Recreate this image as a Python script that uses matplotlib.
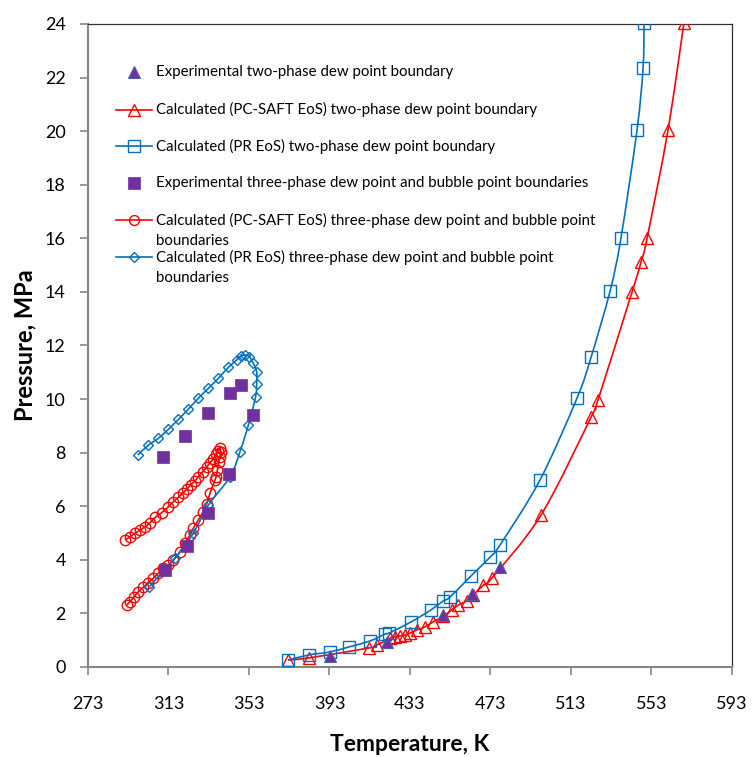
import matplotlib
matplotlib.use("Agg")
import matplotlib.pyplot as plt
from matplotlib.path import Path
from matplotlib.patches import PathPatch

plt.rcParams['font.family'] = ['Lato', 'DejaVu Sans']

# ---------------- data ----------------
# Experimental two-phase dew point boundary
exp2_T = [393.2, 421.4, 449.6, 463.6, 477.7]
exp2_P = [0.41, 0.94, 1.94, 2.71, 3.72]

# Calculated PC-SAFT two-phase dew point boundary
saft2_T = [372.4, 382.8, 412.6, 416.6, 423.1, 425.5, 428.0, 430.5, 433.0, 436.3,
           440.5, 444.6, 449.6, 453.7, 457.0, 461.2, 464.5, 469.5, 473.6, 498.1,
           523.0, 526.4, 543.3, 547.8, 550.8, 561.2, 569.1]
saft2_P = [0.26, 0.34, 0.71, 0.82, 1.07, 1.13, 1.16, 1.19, 1.26, 1.38,
           1.50, 1.69, 1.90, 2.13, 2.31, 2.47, 2.69, 3.06, 3.31, 5.67,
           9.33, 9.96, 13.99, 15.11, 16.00, 20.04, 24.03]

# Calculated PR two-phase dew point boundary
pr2_T = [372.4, 382.8, 393.2, 402.7, 413.1, 420.6, 422.6, 433.5, 443.4, 449.4,
         452.9, 463.3, 472.8, 477.7, 497.6, 516.0, 523.0, 532.4, 537.8, 545.8,
         548.8, 549.3]
pr2_P = [0.26, 0.45, 0.56, 0.75, 0.97, 1.23, 1.27, 1.68, 2.13, 2.46,
         2.61, 3.40, 4.10, 4.55, 6.98, 10.04, 11.57, 14.03, 16.00, 20.04,
         22.35, 24.03]

# Experimental three-phase dew/bubble point boundaries
exp3_T = [310.4, 321.2, 332.8, 343.6, 349.0, 354.8, 343.2, 332.8, 322.0, 311.3]
exp3_P = [7.82, 8.62, 9.49, 10.21, 10.52, 9.40, 7.20, 5.76, 4.51, 3.62]

# Calculated PC-SAFT three-phase boundaries (path order)
saft3_T = [292.2, 293.9, 295.9, 298.0, 300.5, 302.9, 305.4, 307.9, 310.4, 312.9,
           315.4, 318.7, 321.2, 323.7, 325.3, 327.8, 330.3, 332.0, 333.6, 336.1,
           336.6, 337.3, 338.1, 338.6, 338.9, 338.6,
           337.7, 336.6, 335.3, 333.6, 332.0, 330.0, 327.8, 326.2, 324.0, 322.0,
           320.0, 317.9, 315.4, 312.9, 309.6, 306.3, 303.8, 301.3, 298.8, 296.4,
           293.9, 291.4]
saft3_P = [2.31, 2.44, 2.62, 2.81, 2.97, 3.15, 3.31, 3.50, 3.68, 3.81,
           3.99, 4.30, 4.62, 4.93, 5.17, 5.49, 5.80, 6.10, 6.48, 6.98,
           7.10, 7.35, 7.66, 7.85, 8.03, 8.16,
           8.07, 7.95, 7.78, 7.62, 7.47, 7.29, 7.10, 6.95, 6.79, 6.63,
           6.48, 6.34, 6.17, 5.98, 5.76, 5.58, 5.38, 5.23, 5.11, 4.99,
           4.86, 4.74]

# Calculated PR three-phase boundaries (path order)
pr3_T = [303.5, 316.2, 325.3, 332.8, 343.6, 348.5, 352.7, 356.3, 356.8, 356.8,
         355.2, 353.2, 351.0, 348.8, 346.9, 342.7, 337.7, 332.8, 327.8, 322.8,
         317.9, 312.9, 307.9, 303.0, 297.7]
pr3_P = [3.00, 4.06, 4.99, 6.04, 7.10, 8.03, 9.03, 10.09, 10.55, 11.02,
         11.33, 11.58, 11.64, 11.60, 11.46, 11.18, 10.77, 10.40, 10.03, 9.62,
         9.24, 8.87, 8.53, 8.28, 7.91]

x_ticks = [273, 313, 353, 393, 433, 473, 513, 553, 593]
y_ticks = [0, 2, 4, 6, 8, 10, 12, 14, 16, 18, 20, 22, 24]

labels = [
    "Experimental two-phase dew point boundary",
    "Calculated (PC-SAFT EoS) two-phase dew point boundary",
    "Calculated (PR EoS) two-phase dew point boundary",
    "Experimental three-phase dew point and bubble point boundaries",
    "Calculated (PC-SAFT EoS) three-phase dew point and bubble point\nboundaries",
    "Calculated (PR EoS) three-phase dew point and bubble point\nboundaries",
]

RED = '#FF0000'
BLUE = '#0070C0'
PURPLE = '#7030A0'


def smooth_line(ax, xs, ys, color, lw, zorder):
    """Smoothed line through the data points (Catmull-Rom Bezier, like Excel)."""
    pts = list(zip(xs, ys))
    n = len(pts)
    verts = [pts[0]]
    codes = [Path.MOVETO]
    for i in range(n - 1):
        p0 = pts[i - 1] if i > 0 else pts[i]
        p1 = pts[i]
        p2 = pts[i + 1]
        p3 = pts[i + 2] if i + 2 < n else pts[i + 1]
        c1 = (p1[0] + (p2[0] - p0[0]) / 6.0, p1[1] + (p2[1] - p0[1]) / 6.0)
        c2 = (p2[0] - (p3[0] - p1[0]) / 6.0, p2[1] - (p3[1] - p1[1]) / 6.0)
        verts += [c1, c2, p2]
        codes += [Path.CURVE4, Path.CURVE4, Path.CURVE4]
    patch = PathPatch(Path(verts, codes), facecolor='none', edgecolor=color,
                      lw=lw, zorder=zorder, transform=ax.transData)
    ax.add_patch(patch)


fig = plt.figure(figsize=(7.52, 7.57), dpi=100)
ax = fig.add_axes([0.117, 0.1189, 0.8564, 0.8494])

styles = [
    dict(ls='none', marker='^', ms=8.5, mfc=PURPLE, mec='#5060A8', mew=0.8),
    dict(ls='-', color=RED, lw=1.2, marker='^', ms=9, mfc='none', mec=RED, mew=1.0),
    dict(ls='-', color=BLUE, lw=1.2, marker='s', ms=9, mfc='none', mec=BLUE, mew=1.0),
    dict(ls='none', marker='s', ms=8.5, mfc=PURPLE, mec=PURPLE, mew=0.5),
    dict(ls='-', color=RED, lw=1.2, marker='o', ms=7.5, mfc='none', mec=RED, mew=1.0),
    dict(ls='-', color=BLUE, lw=1.2, marker='D', ms=5.5, mfc='none', mec=BLUE, mew=1.0),
]


def draw_series(xs, ys, st, z):
    if st.get('ls') != 'none':
        smooth_line(ax, xs, ys, st['color'], st['lw'], z)
    ax.plot(xs, ys, ls='none', marker=st['marker'], ms=st['ms'], mfc=st['mfc'],
            mec=st['mec'], mew=st['mew'], zorder=z)


draw_series(saft3_T, saft3_P, styles[4], 3)
draw_series(pr3_T, pr3_P, styles[5], 4)
draw_series(exp3_T, exp3_P, styles[3], 5)
draw_series(saft2_T, saft2_P, styles[1], 3)
draw_series(pr2_T, pr2_P, styles[2], 4)
draw_series(exp2_T, exp2_P, styles[0], 5)

ax.set_xlim(273, 593)
ax.set_ylim(0, 24)
ax.set_xticks(x_ticks)
ax.set_yticks(y_ticks)
ax.tick_params(axis='both', direction='out', length=6, width=1.2, color='#868686',
               labelsize=13, labelcolor='black')
ax.tick_params(axis='x', pad=15)
ax.tick_params(axis='y', pad=10)
for s in ['left', 'bottom']:
    ax.spines[s].set_color('#868686')
    ax.spines[s].set_linewidth(1.5)
for s in ['top', 'right']:
    ax.spines[s].set_color('#303030')
    ax.spines[s].set_linewidth(0.9)

ax.set_xlabel('Temperature, K', fontsize=16.5, fontweight='bold', labelpad=16)
ax.set_ylabel('Pressure, MPa', fontsize=17, fontweight='bold', labelpad=6)

# manual legend (handle aligned with first line of text)
row_y = [0.9254, 0.8663, 0.8103, 0.7527, 0.6952, 0.6376]
x0, x1, xm, xt = 0.0435, 0.0994, 0.0714, 0.1056
for st, lab, yy in zip(styles, labels, row_y):
    if st.get('ls') != 'none':
        ax.plot([x0, x1], [yy, yy], transform=ax.transAxes, color=st['color'],
                lw=st['lw'], clip_on=False, zorder=6)
    ax.plot([xm], [yy], transform=ax.transAxes, ls='none', marker=st['marker'],
            ms=st['ms'] * 0.95, mfc=st['mfc'], mec=st['mec'], mew=st['mew'],
            clip_on=False, zorder=7)
    for i, ln in enumerate(lab.split('\n')):
        ax.text(xt, yy - i * 0.0327, ln, transform=ax.transAxes, fontsize=10.8,
                va='center', ha='left', color='black')

fig.savefig('out.png', dpi=100)
